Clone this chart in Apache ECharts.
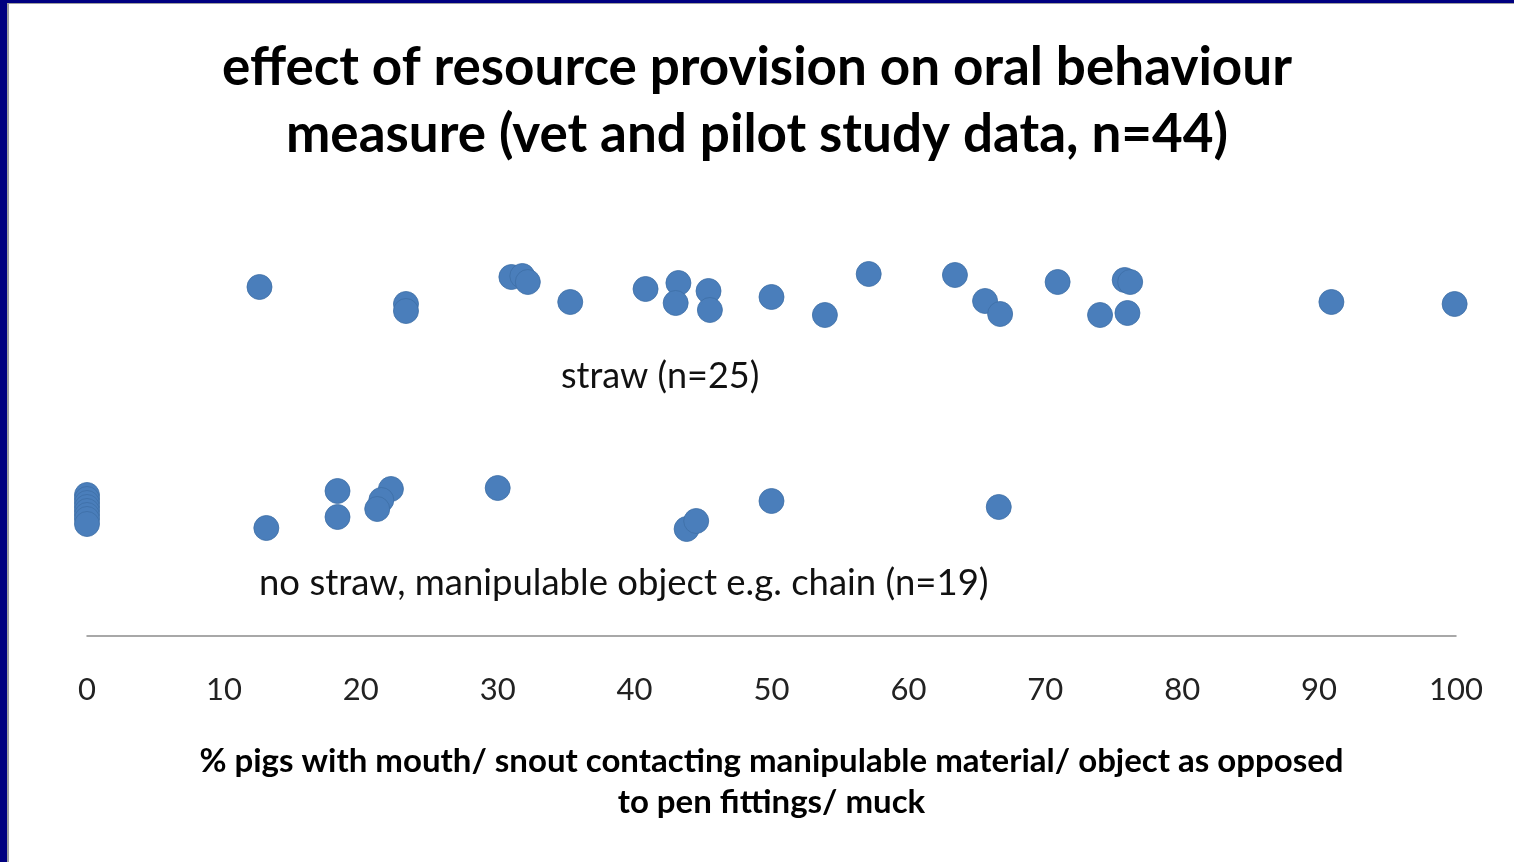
<!DOCTYPE html>
<html>
<head>
<meta charset="utf-8">
<title>oral behaviour</title>
<script src="https://cdn.jsdelivr.net/npm/echarts@6/dist/echarts.min.js"></script>
<style>
  html, body { margin: 0; padding: 0; background: #fff; }
  #main { width: 1514px; height: 862px; }
</style>
</head>
<body>
<div id="main"></div>
<script>
// % pigs with mouth/snout on manipulable material (x) and vertical jitter (y, no meaning)
var strawX = [12.6, 23.3, 23.3, 31.0, 31.8, 32.2, 35.3, 40.8, 43.2, 43.0, 45.4, 45.5, 50.0,
              53.9, 57.1, 63.4, 65.6, 66.7, 70.9, 75.8, 76.2, 74.0, 76.0, 90.9, 99.9];
var strawY = [3.49, 3.32, 3.25, 3.59, 3.60, 3.54, 3.34, 3.47, 3.53, 3.33, 3.45, 3.26, 3.39,
              3.21, 3.62, 3.61, 3.35, 3.22, 3.54, 3.56, 3.54, 3.21, 3.23, 3.34, 3.32];

var noStrawX = [0, 0, 0, 0, 0, 0, 0, 0, 13.1, 18.3, 18.3, 22.2, 21.5, 21.2, 30.0, 43.8, 44.5, 50.0, 66.6];
var noStrawY = [1.41, 1.37, 1.33, 1.29, 1.25, 1.21, 1.17, 1.12, 1.08, 1.45, 1.19, 1.47, 1.36, 1.27,
                1.48, 1.07, 1.15, 1.35, 1.29];

var xTicks = [0, 10, 20, 30, 40, 50, 60, 70, 80, 90, 100];

function pairs(xs, ys) {
  var out = [];
  for (var i = 0; i < xs.length; i++) out.push([xs[i], ys[i]]);
  return out;
}

var fontFam = 'Lato, "Open Sans", sans-serif';
var dotStyle = { color: '#4a7ebb', opacity: 1, borderColor: '#3e6ea6', borderWidth: 0.8 };

var option = {
  backgroundColor: '#fff',
  animation: false,
  title: {
    text: 'effect of resource provision on oral behaviour\nmeasure (vet and pilot study data, n=44)',
    left: 'center',
    top: 29,
    padding: [5, 0, 5, 16],
    textStyle: { fontFamily: fontFam, fontWeight: 'bold', fontSize: 53, color: '#000', lineHeight: 67 }
  },
  grid: { left: 87, right: 58, top: 236, bottom: 226 },
  xAxis: {
    type: 'value',
    min: 0,
    max: 100,
    interval: 10,
    name: '% pigs with mouth/ snout contacting manipulable material/ object as opposed\nto pen fittings/ muck',
    nameLocation: 'middle',
    nameGap: 105,
    nameTextStyle: { fontFamily: fontFam, fontWeight: 'bold', fontSize: 33, color: '#000', lineHeight: 41 },
    axisLine: { lineStyle: { color: '#8c8c8c', width: 1.5 } },
    axisTick: { show: false },
    splitLine: { show: false },
    axisLabel: {
      margin: 38,
      fontFamily: fontFam,
      fontSize: 31,
      color: '#222',
      formatter: function (v) { return xTicks.indexOf(v) >= 0 ? String(v) : ''; }
    }
  },
  yAxis: { type: 'value', min: 0, max: 4, show: false, splitLine: { show: false } },
  graphic: [
    { type: 'rect', shape: { x: 0, y: 0, width: 1514, height: 3 }, style: { fill: '#000080' } },
    { type: 'rect', shape: { x: 0, y: 3, width: 1514, height: 1 }, style: { fill: '#a0a0a0' } },
    { type: 'rect', shape: { x: 0, y: 0, width: 7, height: 862 }, style: { fill: '#000080' } },
    { type: 'rect', shape: { x: 7, y: 3, width: 2, height: 859 }, style: { fill: '#a0a0a0' } },
    { type: 'text', x: 561, y: 376,
      style: { text: 'straw (n=25)', font: '36px ' + fontFam, fill: '#111', textVerticalAlign: 'middle' } },
    { type: 'text', x: 259, y: 583,
      style: { text: 'no straw, manipulable object e.g. chain (n=19)', font: '36.5px ' + fontFam, fill: '#111', textVerticalAlign: 'middle' } }
  ],
  series: [
    {
      name: 'straw',
      type: 'scatter',
      symbolSize: 25,
      itemStyle: dotStyle,
      data: pairs(strawX, strawY)
    },
    {
      name: 'no straw',
      type: 'scatter',
      symbolSize: 25,
      itemStyle: dotStyle,
      data: pairs(noStrawX, noStrawY)
    }
  ]
};

var myChart = echarts.init(document.getElementById('main'));
myChart.setOption(option);
</script>
</body>
</html>
